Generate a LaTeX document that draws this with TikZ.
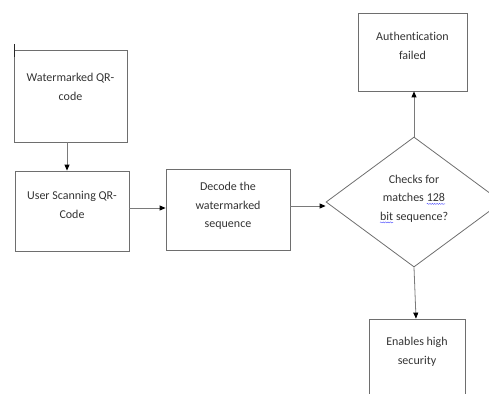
\documentclass[tikz,border=0pt]{standalone}
\usepackage{fontspec}
\setmainfont{Carlito}[Ligatures={NoCommon}]
\usetikzlibrary{arrows.meta,shapes.geometric,decorations.pathmorphing}
\definecolor{boxline}{HTML}{6E6E6E}
\definecolor{txt}{HTML}{333333}
\definecolor{conn}{HTML}{7A7A7A}
\newcommand\wavyword[1]{\tikz[baseline=(ww.base)]{\node[inner sep=0pt,outer sep=0pt,text=txt](ww){#1};\draw[blue!75,line width=0.35pt,decorate,decoration={snake,amplitude=0.55pt,segment length=2.4pt}]([yshift=-2.2pt]ww.base west)--([yshift=-2.2pt]ww.base east);}}
\tikzset{
  stepbox/.style={draw=boxline,line width=0.8pt,rectangle,inner sep=0pt},
  lbl/.style={text=txt,align=center,inner sep=0pt,font=\fontsize{12}{18.5}\selectfont},
  conn/.style={draw=conn,line width=0.8pt,-{Triangle[length=6pt,width=5pt,fill=black,color=black]}}
}
\begin{document}
\begin{tikzpicture}[x=1pt,y=-1pt]
\useasboundingbox (0,0) rectangle (489,393);
\clip (0,0) rectangle (489,393);
% boxes
\node[stepbox,minimum width=113pt,minimum height=92pt] (b1) at (70.5,96) {};
\node[stepbox,minimum width=114pt,minimum height=80pt] (b2) at (72,211) {};
\node[stepbox,minimum width=124pt,minimum height=81pt] (b3) at (228,209.5) {};
\node[stepbox,minimum width=109pt,minimum height=78pt] (b4) at (412.5,52) {};
\node[stepbox,minimum width=96pt,minimum height=120pt] (b5) at (417,379) {};
\node[diamond,draw=boxline,line width=0.8pt,minimum width=176pt,minimum height=130pt,inner sep=0pt] (d) at (414,202) {};
% cursor mark
\coordinate (c1) at (14,44);
\coordinate (c2) at (14,57);
\draw[black!85,line width=1pt] (c1) -- (c2);
% texts
\node[lbl] (t1) at (70.5,87) {Watermarked QR-\\code};
\node[lbl] (t2) at (72,205) {User Scanning QR-\\Code};
\node[lbl] (t3) at (228,206) {Decode the\\watermarked\\sequence};
\node[lbl] (t4) at (412.5,46) {Authentication\\failed};
\node[lbl] (t5) at (417,352) {Enables high\\security};
\node[lbl] (t6) at (414,199) {Checks for\\matches \wavyword{128}\\\wavyword{bit} sequence?};
% connectors
\draw[conn] (b1.south -| 67,0) -- (b2.north -| 67,0);
\draw[conn] (b2.east |- 0,208) -- (b3.west |- 0,208);
\draw[conn] (b3.east |- 0,206) -- (d.west |- 0,206);
\draw[conn] (d.north) -- (b4.south -| d.north);
\draw[conn] (d.south) -- (b5.north -| 416,0);
\end{tikzpicture}
\end{document}
